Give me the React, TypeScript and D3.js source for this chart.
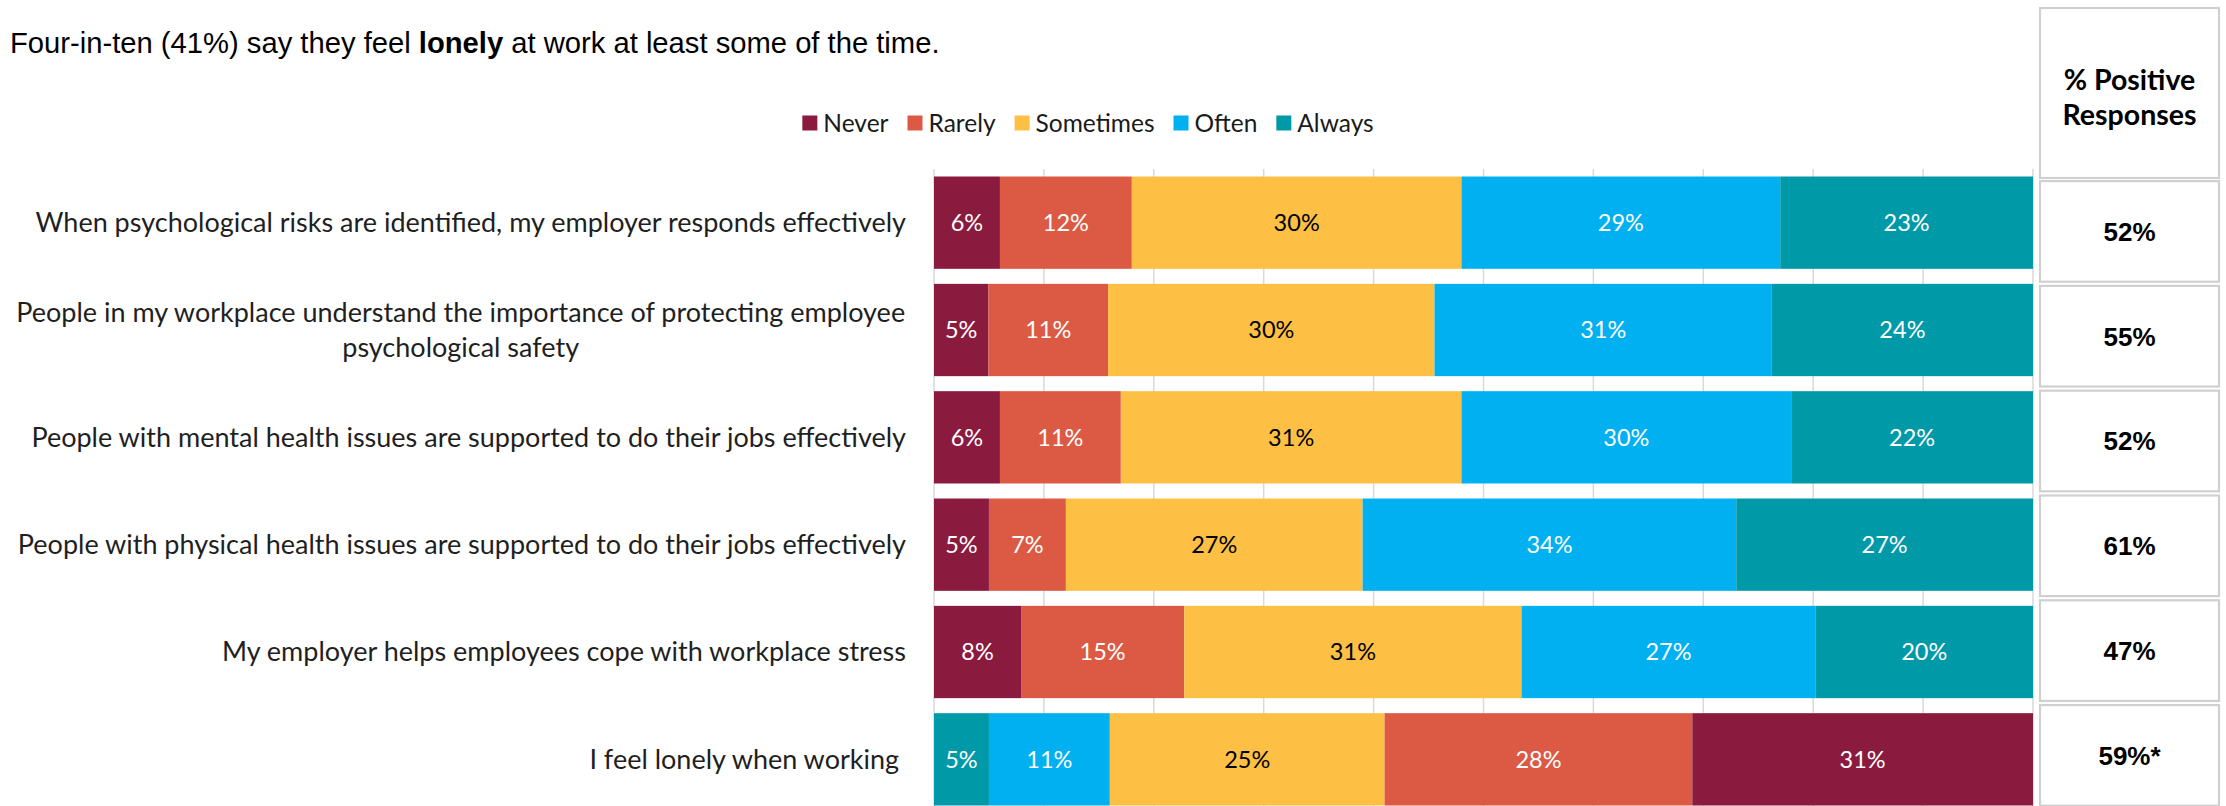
import { useMemo } from "react";
import * as d3 from "d3";

const categories = [
  "When psychological risks are identified, my employer responds effectively",
  "People in my workplace understand the importance of protecting employee psychological safety",
  "People with mental health issues are supported to do their jobs effectively",
  "People with physical health issues are supported to do their jobs effectively",
  "My employer helps employees cope with workplace stress",
  "I feel lonely when working",
];

// label lines (row 2 wraps in the original; row 6 carries a trailing space)
const labelLines = [
  ["When psychological risks are identified, my employer responds effectively"],
  ["People in my workplace understand the importance of protecting employee", "psychological safety"],
  ["People with mental health issues are supported to do their jobs effectively"],
  ["People with physical health issues are supported to do their jobs effectively"],
  ["My employer helps employees cope with workplace stress"],
  ["I feel lonely when working "],
];

const seriesNames = ["Never", "Rarely", "Sometimes", "Often", "Always"];
const never = [6, 5, 6, 5, 8, 31];
const rarely = [12, 11, 11, 7, 15, 28];
const sometimes = [30, 30, 31, 27, 31, 25];
const often = [29, 31, 30, 34, 27, 11];
const always = [23, 24, 22, 27, 20, 5];
// the loneliness item is reverse-scored, so its stack runs Always -> Never
const reversed = [false, false, false, false, false, true];
const positive = ["52%", "55%", "52%", "61%", "47%", "59%*"];
const gridTicks = d3.range(0, 101, 10);

const colors = ["#8b1a3f", "#dc5a44", "#fdc044", "#00b0f0", "#0099a8"];
const labelColor = ["#fff", "#fff", "#000", "#fff", "#fff"];

const W = 2226;
const H = 806;
const plotLeft = 934;
const plotRight = 2033;
const calibri = "Lato, 'Open Sans', sans-serif";
const arial = "'Liberation Sans', Arial, sans-serif";

function textWidth(txt: string, font: string) {
  const c = document.createElement("canvas").getContext("2d")!;
  c.font = font;
  return c.measureText(txt).width;
}

export default function App() {
  const values = [never, rarely, sometimes, often, always];

  const y = d3
    .scaleBand<string>()
    .domain(categories)
    .range([169, 813])
    .paddingInner(0.14)
    .paddingOuter(0.07);

  // the side table rows are a touch tighter than the bar rows
  const ty = d3
    .scaleBand<string>()
    .domain(categories)
    .range([179, 179 + 6 * 104.8])
    .paddingInner(0.04)
    .paddingOuter(0.02);

  const grid = d3.scaleLinear().domain([0, 100]).range([plotLeft, plotRight]);

  const rows = categories.map((cat, i) => {
    const order = reversed[i] ? [4, 3, 2, 1, 0] : [0, 1, 2, 3, 4];
    const vals = order.map((s) => values[s][i]);
    const total = d3.sum(vals);
    const x = d3.scaleLinear().domain([0, total]).range([plotLeft, plotRight]);
    const ends = Array.from(d3.cumsum(vals));
    return order.map((s, k) => ({
      s,
      v: vals[k],
      x0: x(ends[k] - vals[k]),
      x1: x(ends[k]),
      cat,
    }));
  });

  const legendFont = `24.5px ${calibri}`;
  const legend = useMemo(() => {
    const sq = 15;
    const gap = 6;
    const between = 19;
    const widths = seriesNames.map((n) => sq + gap + textWidth(n, legendFont));
    const total = d3.sum(widths) + between * (seriesNames.length - 1);
    let cx = 1088 - total / 2;
    return seriesNames.map((n, i) => {
      const item = { n, i, x: cx };
      cx += widths[i] + between;
      return item;
    });
  }, []);

  const cellX0 = 2040;
  const cellX1 = 2219;
  const labelSize = 27;

  return (
    <svg
      width={W}
      height={H}
      viewBox={`0 0 ${W} ${H}`}
      style={{ position: "absolute", left: 0, top: 0, background: "#fff" }}
    >
      <text x={10} y={53} fontFamily={arial} fontSize={29.2} fill="#000">
        Four-in-ten (41%) say they feel <tspan fontWeight="bold">lonely</tspan> at work at least some of the time.
      </text>

      {/* legend */}
      <g>
        {legend.map((d) => (
          <g key={d.n} transform={`translate(${d.x},123)`}>
            <rect x={0} y={-7.5} width={15} height={15} fill={colors[d.i]} />
            <text x={21} y={0} dy="0.35em" fontFamily={calibri} fontSize={24.5} fill="#1a1a1a">
              {d.n}
            </text>
          </g>
        ))}
      </g>

      {/* gridlines */}
      <g>
        {gridTicks.map((t) => (
          <line
            key={t}
            x1={grid(t)}
            x2={grid(t)}
            y1={169}
            y2={H}
            stroke="#d9d9d9"
            strokeWidth={1.5}
          />
        ))}
      </g>

      {/* bars */}
      {rows.map((segs, i) => (
        <g key={i}>
          {segs.map((d) => (
            <g key={d.s}>
              <rect
                x={d.x0}
                y={y(d.cat)}
                width={d.x1 - d.x0}
                height={y.bandwidth()}
                fill={colors[d.s]}
              />
              <text
                x={(d.x0 + d.x1) / 2}
                y={y(d.cat)! + y.bandwidth() / 2}
                dy="0.36em"
                textAnchor="middle"
                fontFamily={calibri}
                fontSize={23.5}
                fill={labelColor[d.s]}
              >
                {d.v}%
              </text>
            </g>
          ))}
        </g>
      ))}

      {/* category labels */}
      {labelLines.map((lines, i) => {
        const cy = y(categories[i])! + y.bandwidth() / 2;
        const lh = 35;
        const first = cy - ((lines.length - 1) * lh) / 2;
        const font = `${labelSize}px ${calibri}`;
        const w0 = textWidth(lines[0], font);
        const right = 906;
        return (
          <g key={i}>
            {lines.map((ln, k) => (
              <text
                key={k}
                x={lines.length > 1 ? right - w0 / 2 : right}
                y={first + k * lh}
                dy="0.35em"
                textAnchor={lines.length > 1 ? "middle" : "end"}
                fontFamily={calibri}
                fontSize={labelSize}
                fill="#1f1f1f"
                style={{ whiteSpace: "pre" }}
              >
                {ln}
              </text>
            ))}
          </g>
        );
      })}

      {/* % positive table */}
      <rect
        x={cellX0}
        y={8}
        width={cellX1 - cellX0}
        height={170}
        fill="#fff"
        stroke="#d0d0d0"
        strokeWidth={2.2}
      />
      <text
        x={(cellX0 + cellX1) / 2}
        textAnchor="middle"
        fontFamily={calibri}
        fontWeight="bold"
        fontSize={28.5}
        fill="#000"
      >
        <tspan x={(cellX0 + cellX1) / 2} y={90}>% Positive</tspan>
        <tspan x={(cellX0 + cellX1) / 2} y={125}>Responses</tspan>
      </text>
      {categories.map((cat, i) => {
        const top = ty(cat)!;
        const h = ty.bandwidth();
        return (
          <g key={cat}>
            <rect
              x={cellX0}
              y={top}
              width={cellX1 - cellX0}
              height={h}
              fill="#fff"
              stroke="#d0d0d0"
              strokeWidth={2.2}
            />
            <text
              x={(cellX0 + cellX1) / 2}
              y={top + h / 2}
              dy="0.36em"
              textAnchor="middle"
              fontFamily={arial}
              fontWeight="bold"
              fontSize={26}
              fill="#000"
            >
              {positive[i]}
            </text>
          </g>
        );
      })}
    </svg>
  );
}
